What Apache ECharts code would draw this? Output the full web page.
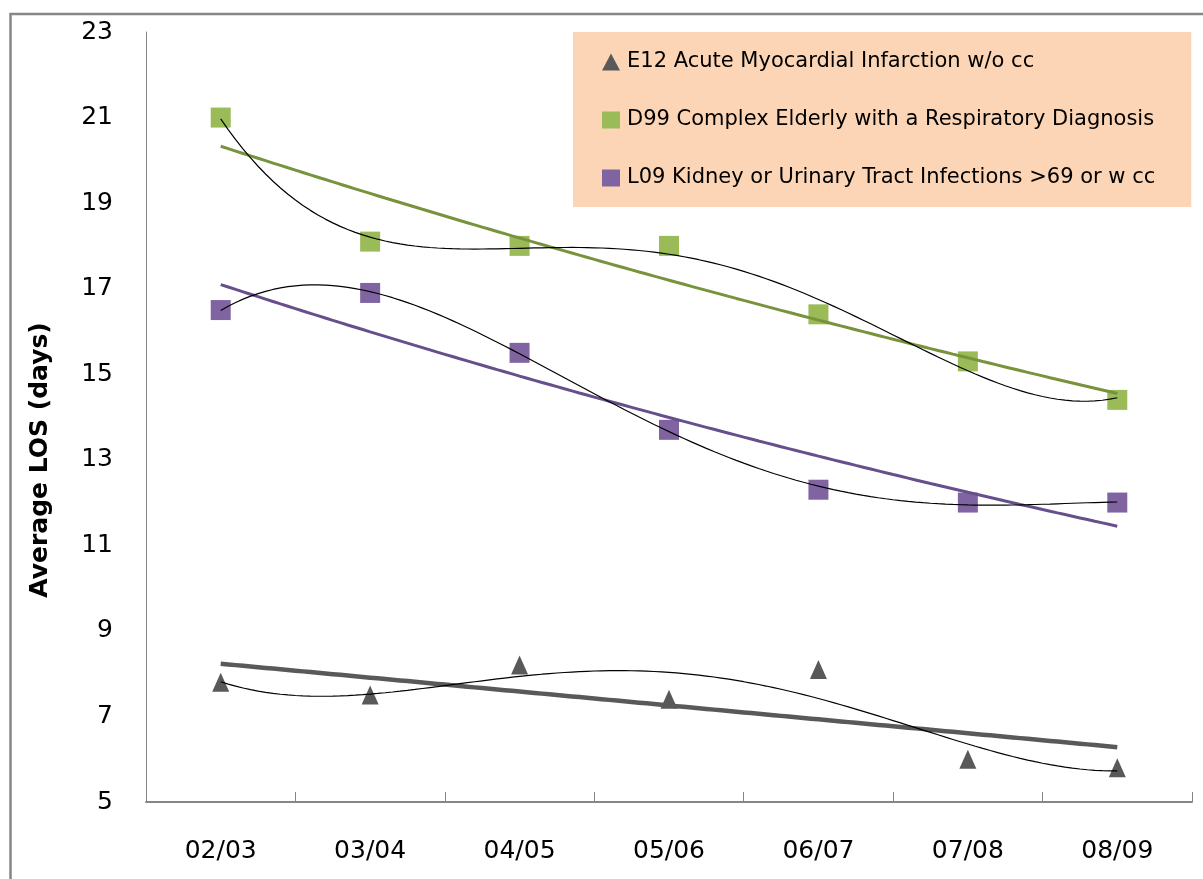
<!DOCTYPE html>
<html>
<head>
<meta charset="utf-8">
<script src="https://cdn.jsdelivr.net/npm/echarts@6/dist/echarts.min.js"></script>
<style>
html,body{margin:0;padding:0;background:#ffffff;}
#chart{width:1203px;height:879px;}
</style>
</head>
<body>
<div id="chart"></div>
<script>
// ---- data ----
const categories = ['02/03', '03/04', '04/05', '05/06', '06/07', '07/08', '08/09'];
const e12Values = [7.8, 7.5, 8.2, 7.4, 8.1, 6.0, 5.8];
const d99Values = [21.0, 18.1, 18.0, 18.0, 16.4, 15.3, 14.4];
const l09Values = [16.5, 16.9, 15.5, 13.7, 12.3, 12.0, 12.0];
const seriesNames = [
  'E12 Acute Myocardial Infarction w/o cc',
  'D99 Complex Elderly with a Respiratory Diagnosis',
  'L09 Kidney or Urinary Tract Infections >69 or w cc'
];
const yMin = 5, yMax = 23, yStep = 2;
const yTitle = 'Average LOS (days)';

// ---- trendline fitting (as the spreadsheet trendlines do) ----
function solve(A, b) {
  const n = b.length;
  const M = A.map((r, i) => r.concat([b[i]]));
  for (let c = 0; c < n; c++) {
    let p = c;
    for (let r = c + 1; r < n; r++) if (Math.abs(M[r][c]) > Math.abs(M[p][c])) p = r;
    [M[c], M[p]] = [M[p], M[c]];
    for (let r = 0; r < n; r++) {
      if (r === c) continue;
      const f = M[r][c] / M[c][c];
      for (let k = c; k <= n; k++) M[r][k] -= f * M[c][k];
    }
  }
  return M.map((r, i) => r[n] / r[i]);
}
function polyFit(ys, order) {
  const xs = ys.map((_, i) => i + 1);
  const m = order + 1;
  const A = [], b = [];
  for (let i = 0; i < m; i++) {
    A.push([]);
    for (let j = 0; j < m; j++) {
      let s = 0;
      xs.forEach(x => { s += Math.pow(x, i + j); });
      A[i].push(s);
    }
    let t = 0;
    xs.forEach((x, k) => { t += Math.pow(x, i) * ys[k]; });
    b.push(t);
  }
  const c = solve(A, b);
  return x => c.reduce((acc, ci, i) => acc + ci * Math.pow(x, i), 0);
}
function linFit(ys) {
  return polyFit(ys, 1);
}
function expFit(ys) {
  const f = polyFit(ys.map(v => Math.log(v)), 1);
  return x => Math.exp(f(x));
}
function sampleCurve(fn, n) {
  const pts = [];
  for (let x = 1; x <= n + 1e-9; x += 0.05) pts.push([x, fn(x)]);
  return pts;
}
const toPoints = vals => vals.map((v, i) => [i + 1, v]);
const n = categories.length;

const chart = echarts.init(document.getElementById('chart'), null, {renderer: 'canvas'});
const FONT = '"DejaVu Sans", sans-serif';

const scatterBase = {type: 'scatter', xAxisIndex: 1, yAxisIndex: 0, z: 2, emphasis: {disabled: true}};
const lineBase = {type: 'line', xAxisIndex: 1, yAxisIndex: 0, showSymbol: false, symbol: 'none', smooth: false, emphasis: {disabled: true}, silent: true};

const option = {
  animation: false,
  backgroundColor: '#ffffff',
  grid: {left: 146, top: 32, width: 1046, height: 770, containLabel: false},
  legend: {
    orient: 'vertical',
    left: 573,
    top: 32,
    backgroundColor: '#FBD5B5',
    padding: [17, 36, 16, 29],
    itemGap: 32,
    itemWidth: 18,
    itemHeight: 17,
    selectedMode: false,
    textStyle: {fontFamily: FONT, fontSize: 21, color: '#000000', lineHeight: 26, padding: [0, 0, 0, 2]},
    data: [
      {name: seriesNames[0], icon: 'triangle', itemStyle: {color: '#595959', opacity: 1}},
      {name: seriesNames[1], icon: 'rect', itemStyle: {color: '#9BBB59', opacity: 1}},
      {name: seriesNames[2], icon: 'rect', itemStyle: {color: '#8064A2', opacity: 1}}
    ]
  },
  xAxis: [
    {
      type: 'category',
      data: categories,
      boundaryGap: true,
      axisLine: {lineStyle: {color: '#868686', width: 2}},
      axisTick: {show: true, inside: true, length: 10, lineStyle: {color: '#868686', width: 1}},
      axisLabel: {fontFamily: FONT, fontSize: 25, color: '#000000', margin: 37, lineHeight: 25},
      splitLine: {show: false}
    },
    {
      type: 'value',
      min: 0.5,
      max: n + 0.5,
      show: false,
      splitLine: {show: false}
    }
  ],
  yAxis: [{
    type: 'value',
    min: yMin,
    max: yMax,
    interval: yStep,
    axisLine: {show: true, lineStyle: {color: '#868686', width: 1}},
    axisTick: {show: false},
    splitLine: {show: false},
    axisLabel: {fontFamily: FONT, fontSize: 25, color: '#000000', margin: 33}
  }],
  graphic: [
    {
      type: 'rect',
      silent: true,
      shape: {x: 10.5, y: 14, width: 1400, height: 1000},
      style: {fill: 'none', stroke: '#868686', lineWidth: 2.5}
    },
    {
      type: 'text',
      silent: true,
      x: 40,
      y: 460,
      rotation: Math.PI / 2,
      style: {
        text: yTitle,
        fontFamily: FONT,
        fontWeight: 'bold',
        fontSize: 25,
        fill: '#000000',
        align: 'center',
        verticalAlign: 'middle'
      }
    }
  ],
  series: [
    Object.assign({}, scatterBase, {
      name: seriesNames[0], symbol: 'triangle', symbolSize: [17, 19],
      itemStyle: {color: '#595959', opacity: 1}, data: toPoints(e12Values)
    }),
    Object.assign({}, scatterBase, {
      name: seriesNames[1], symbol: 'rect', symbolSize: 20,
      itemStyle: {color: '#9BBB59', opacity: 1}, data: toPoints(d99Values)
    }),
    Object.assign({}, scatterBase, {
      name: seriesNames[2], symbol: 'rect', symbolSize: 20,
      itemStyle: {color: '#8064A2', opacity: 1}, data: toPoints(l09Values)
    }),
    Object.assign({}, lineBase, {
      name: 'E12 linear trend', z: 3,
      lineStyle: {color: '#595959', width: 4.5},
      data: sampleCurve(linFit(e12Values), n)
    }),
    Object.assign({}, lineBase, {
      name: 'D99 exponential trend', z: 3,
      lineStyle: {color: '#77933C', width: 3},
      data: sampleCurve(expFit(d99Values), n)
    }),
    Object.assign({}, lineBase, {
      name: 'L09 exponential trend', z: 3,
      lineStyle: {color: '#674F8C', width: 3},
      data: sampleCurve(expFit(l09Values), n)
    }),
    Object.assign({}, lineBase, {
      name: 'E12 polynomial trend', z: 4,
      lineStyle: {color: '#000000', width: 1.2},
      data: sampleCurve(polyFit(e12Values, 4), n)
    }),
    Object.assign({}, lineBase, {
      name: 'D99 polynomial trend', z: 4,
      lineStyle: {color: '#000000', width: 1.2},
      data: sampleCurve(polyFit(d99Values, 4), n)
    }),
    Object.assign({}, lineBase, {
      name: 'L09 polynomial trend', z: 4,
      lineStyle: {color: '#000000', width: 1.2},
      data: sampleCurve(polyFit(l09Values, 4), n)
    })
  ]
};
chart.setOption(option);
</script>
</body>
</html>
